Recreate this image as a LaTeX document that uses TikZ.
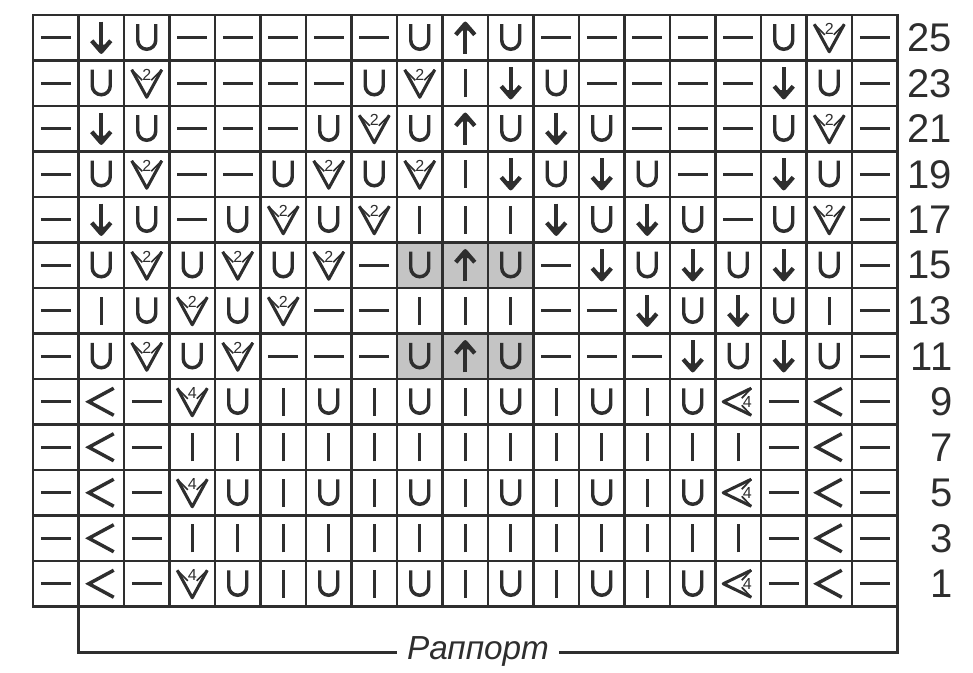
\documentclass[tikz,border=0pt]{standalone}
\usepackage{fontspec}
\setmainfont{Liberation Sans}
\usetikzlibrary{backgrounds}
\definecolor{ink}{HTML}{2E2E2E}
\definecolor{shadegray}{HTML}{C4C4C4}
\tikzset{
  cellbox/.style={draw=ink, line width=1.75pt, rectangle, minimum width=34.125pt, minimum height=34.125pt, inner sep=0pt, outer sep=0pt},
  sym/.style={draw=ink, line width=2.6pt},
  thinsym/.style={draw=ink, line width=1.3pt},
  arrowsym/.style={draw=ink, line width=3.2pt, line join=round},
  numsmall/.style={font=\fontsize{12}{12}\selectfont, text=ink, inner sep=0pt},
  pics/kd/.style={code={\draw[sym] (-15,0) -- (15,0);}},
  pics/kI/.style={code={\draw[sym] (0,-14) -- (0,14);}},
  pics/kU/.style={code={\draw[sym] (-9,13.5) -- (-9,-2.5) arc[start angle=180, end angle=360, radius=9] -- (9,13.5);}},
  pics/klt/.style={code={\draw[sym, line join=miter] (12.5,13.5) -- (-12.5,0) -- (12.5,-13.5);}},
  pics/kdn/.style={code={
    \draw[arrowsym] (0,16) -- (0,-10);
    \draw[arrowsym] (-9.5,-3) -- (0,-14) -- (9.5,-3);
    \fill[ink] (-5,-7) -- (0,-16) -- (5,-7) -- cycle;}},
  pics/kup/.style={code={
    \draw[arrowsym] (0,-16) -- (0,10);
    \draw[arrowsym] (-9.5,3) -- (0,14) -- (9.5,3);
    \fill[ink] (-5,7) -- (0,16) -- (5,7) -- cycle;}},
  pics/kv2/.style={code={
    \draw[sym, line width=2.3pt, line join=round] (-15,13.5) -- (0,-14) -- (15,13.5);
    \draw[thinsym] (-15,13.5) -- (-4.5,3) (15,13.5) -- (4.5,3);
    \node[numsmall] (-num) at (0,8.5) {2};}},
  pics/kv4/.style={code={
    \draw[sym, line width=2.3pt, line join=round] (-15,13.5) -- (0,-14) -- (15,13.5);
    \draw[thinsym] (-15,13.5) -- (-4.5,3) (15,13.5) -- (4.5,3);
    \node[numsmall] (-num) at (0,8.5) {4};}},
  pics/kl4/.style={code={
    \draw[sym, line width=2.3pt, line join=round] (13,13.5) -- (-15,0) -- (13,-13.5);
    \draw[thinsym] (13,13.5) -- (3.5,3.5) (13,-13.5) -- (3.5,-3.5);
    \node[numsmall] (-num) at (9,0) {4};}},
}
\begin{document}
\begin{tikzpicture}[x=0.75pt, y=0.75pt]
\useasboundingbox (0,0) rectangle (973,672);
\foreach \r/\row in {
 1/{d,dn,U,d,d,d,d,d,U,up,U,d,d,d,d,d,U,v2,d},
 2/{d,U,v2,d,d,d,d,U,v2,I,dn,U,d,d,d,d,dn,U,d},
 3/{d,dn,U,d,d,d,U,v2,U,up,U,dn,U,d,d,d,U,v2,d},
 4/{d,U,v2,d,d,U,v2,U,v2,I,dn,U,dn,U,d,d,dn,U,d},
 5/{d,dn,U,d,U,v2,U,v2,I,I,I,dn,U,dn,U,d,U,v2,d},
 6/{d,U,v2,U,v2,U,v2,d,U,up,U,d,dn,U,dn,U,dn,U,d},
 7/{d,I,U,v2,U,v2,d,d,I,I,I,d,d,dn,U,dn,U,I,d},
 8/{d,U,v2,U,v2,d,d,d,U,up,U,d,d,d,dn,U,dn,U,d},
 9/{d,lt,d,v4,U,I,U,I,U,I,U,I,U,I,U,l4,d,lt,d},
 10/{d,lt,d,I,I,I,I,I,I,I,I,I,I,I,I,I,d,lt,d},
 11/{d,lt,d,v4,U,I,U,I,U,I,U,I,U,I,U,l4,d,lt,d},
 12/{d,lt,d,I,I,I,I,I,I,I,I,I,I,I,I,I,d,lt,d},
 13/{d,lt,d,v4,U,I,U,I,U,I,U,I,U,I,U,l4,d,lt,d}} {
  \foreach \s [count=\c] in \row {
    \node[cellbox] (c-\r-\c) at ({33+(\c-0.5)*45.5}, {657-(\r-0.5)*45.5}) {};
    \pic (s-\r-\c) at (c-\r-\c.center) {k\s};
  }
  \pgfmathtruncatemacro{\lab}{27-2*\r}
  \node[anchor=east, inner sep=0pt, text=ink, font=\fontsize{30}{30}\selectfont] (n-\r) at ([xshift=41.25pt]c-\r-19.east) {\lab};
}
\begin{scope}[on background layer]
  \fill[shadegray] (c-6-9.north west) rectangle (c-6-11.south east);
  \fill[shadegray] (c-8-9.north west) rectangle (c-8-11.south east);
\end{scope}
\draw[ink, line width=1.6pt] (c-13-2.south west) -- ++(0,-46) -| (c-13-19.south east);
\node[fill=white, inner xsep=7.5pt, inner ysep=0pt, text=ink, font=\fontsize{25}{25}\selectfont\itshape] (rap) at (478,20.5) {Раппорт};
\end{tikzpicture}
\end{document}
